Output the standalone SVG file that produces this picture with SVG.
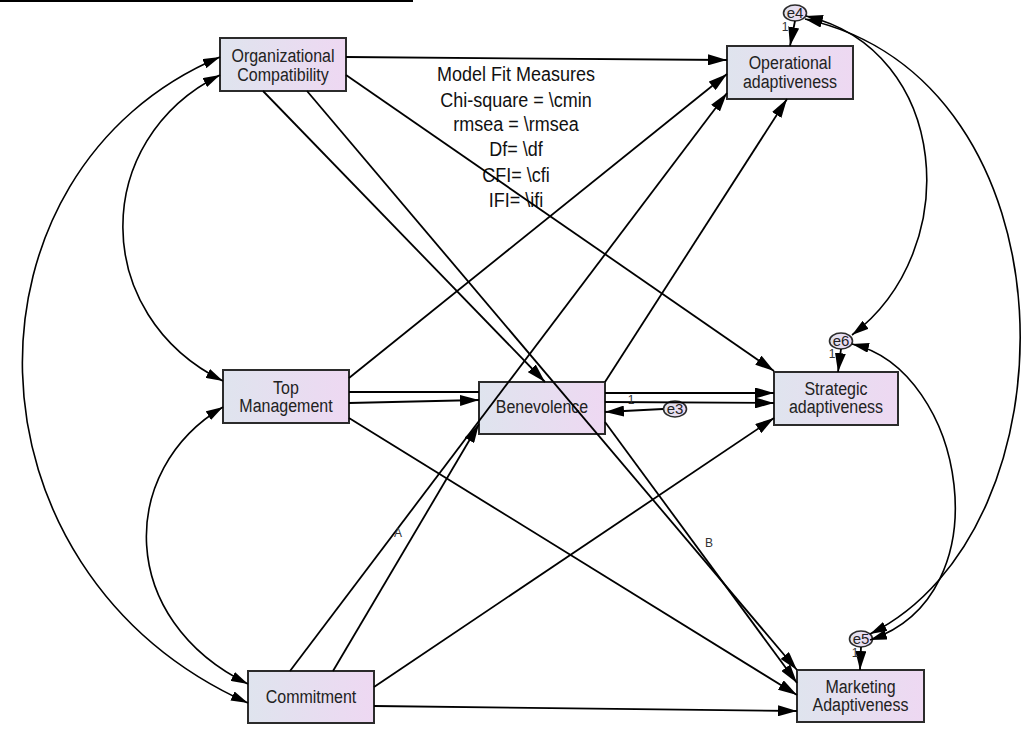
<svg xmlns="http://www.w3.org/2000/svg" width="1034" height="734" viewBox="0 0 1034 734">
<style>
.box{fill:url(#g);stroke:#2b2b2b;stroke-width:2}
.err{fill:url(#g);stroke:#2b2b2b;stroke-width:1.6}
.t{font-family:"Liberation Sans",Arial,sans-serif;font-size:16px;fill:#222;text-anchor:middle}
.et{font-family:"Liberation Sans",Arial,sans-serif;font-size:15px;fill:#222;text-anchor:middle}
.s{font-family:"Liberation Sans",Arial,sans-serif;font-size:12px;fill:#333;text-anchor:middle}
.fit{font-family:"Liberation Sans",Arial,sans-serif;font-size:18px;fill:#111;text-anchor:middle}
.c{fill:none;stroke:#000;stroke-width:1.8;marker-end:url(#ah)}
.cv{fill:none;stroke:#000;stroke-width:1.6;marker-start:url(#ah2);marker-end:url(#ah2)}
</style>
<defs>
<linearGradient id="g" x1="0" y1="0" x2="1" y2="0">
<stop offset="0" stop-color="#dfe4ee"/>
<stop offset="1" stop-color="#eed8f2"/>
</linearGradient>
<marker id="ah" markerUnits="userSpaceOnUse" markerWidth="19" markerHeight="11" refX="19" refY="5.5" orient="auto">
<path d="M0,0 L19,5.5 L0,11 z" fill="#000"/>
</marker>
<marker id="ah2" markerUnits="userSpaceOnUse" markerWidth="17" markerHeight="10" refX="17" refY="5" orient="auto-start-reverse">
<path d="M0,0 L17,5 L0,10 z" fill="#000"/>
</marker>
</defs>
<rect x="0" y="0" width="413" height="2" fill="#000"/>

<g id="model-fit" transform="scale(1,1.1)">
<text class="fit" x="516" y="73.6">Model Fit Measures</text>
<text class="fit" x="516" y="97.3">Chi-square = \cmin</text>
<text class="fit" x="516" y="119.1">rmsea = \rmsea</text>
<text class="fit" x="516" y="141.8">Df= \df</text>
<text class="fit" x="516" y="165.5">CFI= \cfi</text>
<text class="fit" x="516" y="188.2">IFI= \ifi</text>
</g>

<g id="n-orgcomp"><rect class="box" x="220" y="38" width="126" height="53"/>
<g transform="scale(1,1.1)"><text class="t" x="283" y="56.4">Organizational</text><text class="t" x="283" y="73.2">Compatibility</text></g></g>
<g id="n-topmgmt"><rect class="box" x="223" y="370" width="126" height="53"/>
<g transform="scale(1,1.1)"><text class="t" x="286" y="358.2">Top</text><text class="t" x="286" y="375">Management</text></g></g>
<g id="n-commitment"><rect class="box" x="248" y="671" width="126" height="52"/>
<g transform="scale(1,1.1)"><text class="t" x="311" y="639.1">Commitment</text></g></g>
<g id="n-benevolence"><rect class="box" x="479" y="382" width="126" height="52"/>
<g transform="scale(1,1.1)"><text class="t" x="542" y="375.5">Benevolence</text></g></g>
<g id="n-operational"><rect class="box" x="727" y="46" width="126" height="53"/>
<g transform="scale(1,1.1)"><text class="t" x="790" y="62.7">Operational</text><text class="t" x="790" y="79.6">adaptiveness</text></g></g>
<g id="n-strategic"><rect class="box" x="774" y="372" width="124" height="53"/>
<g transform="scale(1,1.1)"><text class="t" x="836" y="359.1">Strategic</text><text class="t" x="836" y="375.9">adaptiveness</text></g></g>
<g id="n-marketing"><rect class="box" x="797" y="670" width="127" height="52"/>
<g transform="scale(1,1.1)"><text class="t" x="860.5" y="630">Marketing</text><text class="t" x="860.5" y="646.8">Adaptiveness</text></g></g>
<g id="n-e3"><ellipse class="err" cx="675" cy="409" rx="11.5" ry="8"/><text class="et" x="675" y="414">e3</text></g>
<g id="n-e4"><ellipse class="err" cx="795" cy="13" rx="11.5" ry="8"/><text class="et" x="795" y="18">e4</text></g>
<g id="n-e6"><ellipse class="err" cx="841" cy="341" rx="11.5" ry="8"/><text class="et" x="841" y="346">e6</text></g>
<g id="n-e5"><ellipse class="err" cx="861" cy="639" rx="11.5" ry="8"/><text class="et" x="861" y="644">e5</text></g>

<g id="connectors">
<path class="c" d="M346,57 L727,60"/>
<path class="c" d="M346,75 L774,371"/>
<path class="c" d="M263,91 L545,382"/>
<path class="c" d="M307,91 L797,670"/>
<path class="c" d="M349,378 L727,74"/>
<path class="c" d="M349,392 L479,392 M605,393 L774,393"/>
<path class="c" d="M349,403 L479,400"/>
<path class="c" d="M349,418 L797,695"/>
<path class="c" d="M605,382 L787,99"/>
<path class="c" d="M605,402 L774,403"/>
<path class="c" d="M605,422 L797,683"/>
<path class="c" d="M290,671 L727,93"/>
<path class="c" d="M333,671 L479,424"/>
<path class="c" d="M374,687 L774,418"/>
<path class="c" d="M374,706 L797,711"/>
<path class="c" d="M663,409 L605,412"/>
<path class="c" d="M795,21 L790,46"/>
<path class="c" d="M841,349 L838,372"/>
<path class="c" d="M861,647 L860,670"/>
<path class="cv" d="M220,57 C-48,170 -48,570 248,703"/>
<path class="cv" d="M220,75 C90,140 90,315 223,381"/>
<path class="cv" d="M223,407 C117,470 117,620 248,684"/>
<path class="cv" d="M806,16 C950,50 965,250 852,335"/>
<path class="cv" d="M805,19 C1080,80 1080,530 870,634"/>
<path class="cv" d="M852,344 C965,370 1005,595 870,640"/>
<text class="s" x="398" y="537">A</text>
<text class="s" x="709" y="547">B</text>
<text class="s" x="631" y="404">1</text>
<text class="s" x="785" y="31">1</text>
<text class="s" x="832" y="358">1</text>
<text class="s" x="855" y="657">1</text>
</g>
</svg>
